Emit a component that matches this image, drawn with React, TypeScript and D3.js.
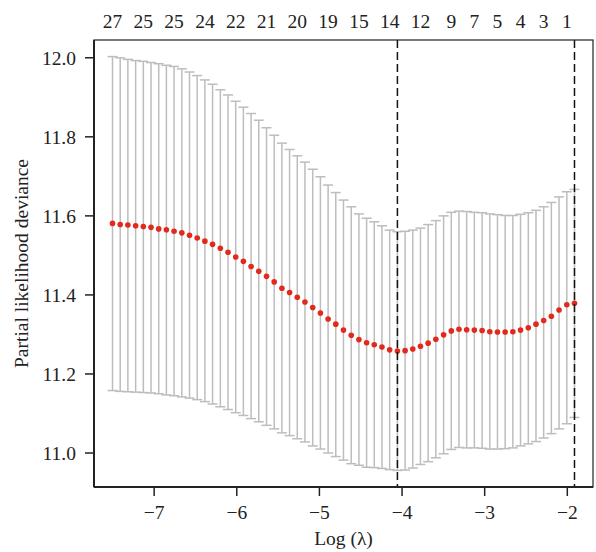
import React from 'react'
import * as d3 from 'd3'

// log(lambda) path, 61 fits
const logLambda = [
  -7.504, -7.411, -7.318, -7.224, -7.131, -7.038, -6.945, -6.852, -6.759, -6.665,
  -6.572, -6.479, -6.386, -6.293, -6.199, -6.106, -6.013, -5.920, -5.827, -5.734,
  -5.640, -5.547, -5.454, -5.361, -5.268, -5.175, -5.081, -4.988, -4.895, -4.802,
  -4.709, -4.615, -4.522, -4.429, -4.336, -4.243, -4.150, -4.056, -3.963, -3.870,
  -3.777, -3.684, -3.591, -3.497, -3.404, -3.311, -3.218, -3.125, -3.031, -2.938,
  -2.845, -2.752, -2.659, -2.566, -2.472, -2.379, -2.286, -2.193, -2.100, -2.006,
  -1.913
]

// mean partial likelihood deviance
const cvm = [
  11.581, 11.578, 11.577, 11.575, 11.573, 11.571, 11.567, 11.565, 11.561, 11.557,
  11.551, 11.544, 11.536, 11.528, 11.518, 11.508, 11.496, 11.485, 11.472, 11.460,
  11.447, 11.433, 11.417, 11.406, 11.394, 11.382, 11.368, 11.354, 11.339, 11.326,
  11.311, 11.298, 11.287, 11.279, 11.274, 11.268, 11.261, 11.258, 11.259, 11.263,
  11.270, 11.278, 11.288, 11.299, 11.309, 11.313, 11.312, 11.311, 11.310, 11.307,
  11.306, 11.306, 11.307, 11.311, 11.317, 11.326, 11.335, 11.346, 11.362, 11.375,
  11.379
]

const cvup = [
  12.003, 12.000, 11.996, 11.993, 11.991, 11.988, 11.985, 11.981, 11.978, 11.972,
  11.964, 11.955, 11.944, 11.933, 11.919, 11.906, 11.890, 11.875, 11.859, 11.842,
  11.823, 11.804, 11.784, 11.768, 11.752, 11.736, 11.718, 11.699, 11.678, 11.659,
  11.640, 11.623, 11.605, 11.594, 11.585, 11.575, 11.564, 11.560, 11.561, 11.564,
  11.569, 11.578, 11.588, 11.600, 11.609, 11.612, 11.611, 11.609, 11.608, 11.605,
  11.603, 11.601, 11.601, 11.604, 11.608, 11.614, 11.623, 11.634, 11.648, 11.661,
  11.667
]

const cvlo = [
  11.158, 11.156, 11.155, 11.154, 11.153, 11.152, 11.150, 11.147, 11.145, 11.142,
  11.139, 11.135, 11.130, 11.124, 11.117, 11.110, 11.102, 11.095, 11.087, 11.079,
  11.070, 11.061, 11.051, 11.044, 11.036, 11.028, 11.018, 11.010, 11.000, 10.991,
  10.982, 10.973, 10.969, 10.964, 10.963, 10.961, 10.958, 10.956, 10.957, 10.962,
  10.971, 10.978, 10.988, 10.998, 11.009, 11.014, 11.013, 11.013, 11.012, 11.010,
  11.010, 11.011, 11.013, 11.018, 11.023, 11.029, 11.038, 11.049, 11.061, 11.074,
  11.090
]

// number of nonzero coefficients shown on top axis
const topIdx = [0, 4, 8, 12, 16, 20, 24, 28, 32, 36, 40, 44, 47, 50, 53, 56, 59]
const topLabels = ['27', '25', '25', '24', '22', '21', '20', '19', '15', '14', '12', '9', '7', '5', '4', '3', '1']

const xTicks = [-7, -6, -5, -4, -3, -2]
const yTicks = [11.0, 11.2, 11.4, 11.6, 11.8, 12.0]
const minIdx = 37
const seIdx = 60

const W = 596
const H = 552
const left = 94
const right = 593
const top = 40
const bottom = 487
const font = '"Liberation Serif", "Times New Roman", serif'
const fs = 19.5

const App = () => {
  const x = d3.scaleLinear().domain([-7.728, -1.689]).range([left, right])
  const y = d3.scaleLinear().domain([10.914, 12.045]).range([bottom, top])
  const fmtY = d3.format('.1f')
  const fmtX = d3.format('d')
  const capW = 5
  const grey = '#bdbdbd'

  return (
    <svg width={W} height={H} style={{ position: 'absolute', left: 0, top: 0, background: '#fff' }}>
      {/* error bars */}
      <g stroke={grey} strokeWidth={1.5} fill='none'>
        {logLambda.map((l, i) => {
          const cx = x(l)
          return (
            <g key={i}>
              <line x1={cx} x2={cx} y1={y(cvlo[i])} y2={y(cvup[i])} />
              <line x1={cx - capW} x2={cx + capW} y1={y(cvup[i])} y2={y(cvup[i])} />
              <line x1={cx - capW} x2={cx + capW} y1={y(cvlo[i])} y2={y(cvlo[i])} />
            </g>
          )
        })}
      </g>
      {/* means */}
      <g fill='#e2291d'>
        {logLambda.map((l, i) => (
          <circle key={i} cx={x(l)} cy={y(cvm[i])} r={2.8} />
        ))}
      </g>
      {/* lambda.min and lambda.1se */}
      {[minIdx, seIdx].map(i => (
        <line key={i} x1={x(logLambda[i])} x2={x(logLambda[i])} y1={top} y2={bottom}
          stroke='#111' strokeWidth={1.5} strokeDasharray='8,4' />
      ))}
      {/* frame */}
      <rect x={left} y={top} width={right - left} height={bottom - top} fill='none' stroke='#222' strokeWidth={1.2} />
      <line x1={left} x2={left} y1={top} y2={bottom} stroke='#222' strokeWidth={2} />
      <line x1={left} x2={right} y1={bottom} y2={bottom} stroke='#222' strokeWidth={2} />

      {/* x axis */}
      <g fontFamily={font} fontSize={fs} fill='#222'>
        {xTicks.map(t => (
          <g key={t}>
            <line x1={x(t)} x2={x(t)} y1={bottom} y2={bottom + 9} stroke='#222' strokeWidth={1.5} />
            <text x={x(t)} y={519} textAnchor='middle'>{fmtX(t)}</text>
          </g>
        ))}
        <text x={(left + right) / 2} y={545} textAnchor='middle'>Log (λ)</text>
      </g>

      {/* y axis */}
      <g fontFamily={font} fontSize={fs} fill='#222'>
        {yTicks.map(t => (
          <g key={t}>
            <line x1={left - 9} x2={left} y1={y(t)} y2={y(t)} stroke='#222' strokeWidth={1.5} />
            <text x={76} y={y(t)} dy='0.35em' textAnchor='end'>{fmtY(t)}</text>
          </g>
        ))}
        <text transform={`translate(28,${(top + bottom) / 2}) rotate(-90)`} textAnchor='middle'>
          Partial likelihood deviance
        </text>
      </g>

      {/* top axis: nonzero counts */}
      <g fontFamily={font} fontSize={fs} fill='#222'>
        {topIdx.map((idx, k) => (
          <text key={k} x={x(logLambda[idx])} y={28} textAnchor='middle'>{topLabels[k]}</text>
        ))}
      </g>
    </svg>
  )
}

export default App
